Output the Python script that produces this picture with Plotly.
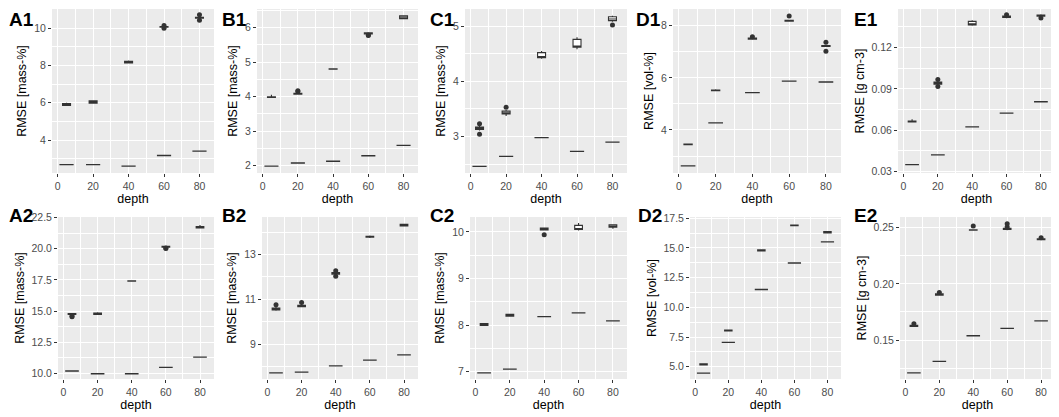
import plotly.graph_objects as go
from plotly.subplots import make_subplots

# depths of the boxes (cm)
depth = [5, 20, 40, 60, 80]

# lower, flat boxes (baseline RMSE)
A1_base = [2.68, 2.68, 2.60, 3.17, 3.40]
A2_base = [10.19, 9.97, 9.97, 10.48, 11.31]
B1_base = [1.99, 2.08, 2.13, 2.29, 2.59]
B2_base = [7.73, 7.77, 8.04, 8.30, 8.53]
C1_base = [2.46, 2.64, 2.98, 2.73, 2.90]
C2_base = [6.97, 7.05, 8.18, 8.26, 8.09]
D1_base = [2.62, 4.27, 5.43, 5.87, 5.84]
D2_base = [4.47, 7.05, 11.50, 13.73, 15.50]
E1_base = [0.0351, 0.0422, 0.0624, 0.0724, 0.0807]
E2_base = [0.1207, 0.1310, 0.1538, 0.1603, 0.1670]

# upper boxes: (lower whisker, q1, median, q3, upper whisker) per depth
A1_box = [(5.84, 5.86, 5.90, 5.95, 6.00), (5.95, 5.98, 6.05, 6.10, 6.14),
          (8.10, 8.13, 8.17, 8.22, 8.26), (10.03, 10.05, 10.07, 10.09, 10.11),
          (10.50, 10.53, 10.55, 10.58, 10.62)]
A2_box = [(14.70, 14.72, 14.77, 14.80, 14.85), (14.70, 14.73, 14.80, 14.85, 14.90),
          (17.38, 17.40, 17.42, 17.44, 17.46), (20.10, 20.13, 20.17, 20.20, 20.25),
          (21.62, 21.67, 21.72, 21.78, 21.90)]
B1_box = [(3.97, 3.98, 3.99, 4.00, 4.06), (4.06, 4.07, 4.08, 4.10, 4.12),
          (4.79, 4.80, 4.80, 4.81, 4.82), (5.80, 5.82, 5.83, 5.85, 5.86),
          (6.25, 6.26, 6.30, 6.34, 6.36)]
B2_box = [(10.50, 10.53, 10.58, 10.62, 10.68), (10.66, 10.68, 10.71, 10.74, 10.80),
          (12.08, 12.12, 12.16, 12.20, 12.24), (13.74, 13.77, 13.79, 13.81, 13.85),
          (14.25, 14.27, 14.30, 14.35, 14.37)]
C1_box = [(3.11, 3.13, 3.15, 3.17, 3.19), (3.37, 3.41, 3.43, 3.46, 3.48),
          (4.41, 4.43, 4.44, 4.52, 4.55), (4.58, 4.62, 4.64, 4.76, 4.80),
          (5.08, 5.10, 5.13, 5.17, 5.19)]
C2_box = [(7.98, 7.99, 8.01, 8.03, 8.04), (8.18, 8.19, 8.21, 8.23, 8.24),
          (10.03, 10.04, 10.06, 10.08, 10.09), (10.03, 10.05, 10.07, 10.14, 10.19),
          (10.07, 10.10, 10.12, 10.15, 10.16)]
D1_box = [(3.43, 3.44, 3.45, 3.46, 3.47), (5.50, 5.51, 5.52, 5.53, 5.56),
          (7.47, 7.48, 7.50, 7.53, 7.56), (8.16, 8.17, 8.19, 8.21, 8.23),
          (7.18, 7.20, 7.22, 7.24, 7.27)]
D2_box = [(5.12, 5.15, 5.20, 5.24, 5.26), (8.00, 8.02, 8.05, 8.08, 8.10),
          (14.72, 14.75, 14.80, 14.85, 14.88), (16.85, 16.87, 16.90, 16.93, 16.95),
          (16.22, 16.25, 16.30, 16.38, 16.42)]
E1_box = [(0.0658, 0.0660, 0.0664, 0.0667, 0.0680), (0.0925, 0.0935, 0.0942, 0.0950, 0.0960),
          (0.1358, 0.1365, 0.1373, 0.1390, 0.1398), (0.1412, 0.1418, 0.1422, 0.1428, 0.1435),
          (0.1425, 0.1428, 0.1432, 0.1437, 0.1442)]
E2_box = [(0.1615, 0.1620, 0.1625, 0.1632, 0.1638), (0.1895, 0.1900, 0.1906, 0.1912, 0.1918),
          (0.2475, 0.2478, 0.2480, 0.2482, 0.2485), (0.2478, 0.2485, 0.2490, 0.2495, 0.2500),
          (0.2388, 0.2392, 0.2396, 0.2400, 0.2405)]

# outliers (depth, value)
A1_out = [(60, 10.00), (60, 10.14), (80, 10.42), (80, 10.72)]
A2_out = [(5, 14.55), (5, 14.60), (60, 20.02), (60, 20.06)]
B1_out = [(20, 4.15), (20, 4.17), (60, 5.77), (60, 5.79)]
B2_out = [(5, 10.77), (20, 10.87), (40, 12.03), (40, 12.28)]
C1_out = [(5, 3.04), (5, 3.23), (20, 3.53), (80, 5.02)]
C2_out = [(40, 9.94)]
D1_out = [(40, 7.58), (60, 8.37), (80, 7.02), (80, 7.36)]
D2_out = []
E1_out = [(20, 0.0918), (20, 0.0968), (60, 0.1438), (80, 0.1414)]
E2_out = [(5, 0.1645), (20, 0.1924), (40, 0.2515), (60, 0.2505), (60, 0.2535), (80, 0.2410)]

y_titles = ["RMSE [mass-%]", "RMSE [mass-%]", "RMSE [mass-%]", "RMSE [vol-%]", "RMSE [g cm-3]"]

panels = [
    # name, row, col, base, box, out, y range, tick0, dtick, fmt
    ("A1", 1, 1, A1_base, A1_box, A1_out, [2.23, 11.03], 4, 2, ""),
    ("B1", 1, 2, B1_base, B1_box, B1_out, [1.79, 6.54], 2, 1, ""),
    ("C1", 1, 3, C1_base, C1_box, C1_out, [2.34, 5.31], 3, 1, ""),
    ("D1", 1, 4, D1_base, D1_box, D1_out, [2.35, 8.64], 4, 2, ""),
    ("E1", 1, 5, E1_base, E1_box, E1_out, [0.029, 0.148], 0.03, 0.03, ".2f"),
    ("A2", 2, 1, A2_base, A2_box, A2_out, [9.55, 22.55], 10, 2.5, ".1f"),
    ("B2", 2, 2, B2_base, B2_box, B2_out, [7.46, 14.67], 9, 2, ""),
    ("C2", 2, 3, C2_base, C2_box, C2_out, [6.84, 10.32], 7, 1, ""),
    ("D2", 2, 4, D2_base, D2_box, D2_out, [3.97, 17.6], 5, 2.5, ".1f"),
    ("E2", 2, 5, E2_base, E2_box, E2_out, [0.1153, 0.2595], 0.15, 0.05, ".2f"),
]

# the page body has an 8px margin, so the figure is 8px smaller and all
# pixel positions below are shifted by 8
OFF = 8
W, H = 1059 - OFF, 417 - OFF
cols_px = {1: [(52, 214), (257, 418), (465, 627), (673, 841), (898, 1055)],
           2: [(58, 214), (262, 418), (470, 627), (690, 841), (900, 1055)]}
rows_px = {1: (9, 173), 2: (217, 379)}
label_x = {1: [2, 221, 429, 635, 853], 2: [2, 221, 429, 637, 853]}
label_y = {1: 8, 2: 204}

ink = "#333333"
font = "Liberation Sans, Arial, sans-serif"

fig = make_subplots(rows=2, cols=5, horizontal_spacing=0.02, vertical_spacing=0.05)

for name, r, c, base, box, out, yr, t0, dt, fmt in panels:
    # baseline boxes (flat)
    fig.add_trace(go.Box(
        x=depth, q1=base, median=base, q3=base, lowerfence=base, upperfence=base,
        width=8, whiskerwidth=0, fillcolor="white",
        line=dict(color=ink, width=1.3), boxpoints=False, showlegend=False,
        hoverinfo="skip"
    ), row=r, col=c)
    # model boxes
    fig.add_trace(go.Box(
        x=depth,
        lowerfence=[b[0] for b in box], q1=[b[1] for b in box],
        median=[b[2] for b in box], q3=[b[3] for b in box],
        upperfence=[b[4] for b in box],
        width=4.5, whiskerwidth=0, fillcolor="white",
        line=dict(color=ink, width=1.1), boxpoints=False, showlegend=False,
        hoverinfo="skip"
    ), row=r, col=c)
    if out:
        fig.add_trace(go.Scatter(
            x=[o[0] for o in out], y=[o[1] for o in out], mode="markers",
            marker=dict(size=5, color=ink), showlegend=False, hoverinfo="skip"
        ), row=r, col=c)

    left, right = cols_px[r][c - 1]
    top, bottom = rows_px[r]
    fig.update_xaxes(
        domain=[(left - OFF) / W, min(1, (right - OFF) / W)], range=[-3.2, 88.2],
        tickvals=[0, 20, 40, 60, 80], ticks="outside", ticklen=3, tickcolor=ink,
        tickfont=dict(size=10.5, color="#4D4D4D", family=font),
        showgrid=True, gridcolor="white", gridwidth=1,
        minor=dict(tick0=0, dtick=10, showgrid=True, gridcolor="white", gridwidth=0.5),
        zeroline=False, showline=False, automargin=False,
        title=dict(text="depth", font=dict(size=12.5, color="black", family=font), standoff=2),
        row=r, col=c)
    fig.update_yaxes(
        domain=[1 - (bottom - OFF) / H, 1 - (top - OFF) / H], range=yr,
        tick0=t0, dtick=dt, tickformat=fmt, ticks="outside", ticklen=3, tickcolor=ink,
        tickfont=dict(size=10.5, color="#4D4D4D", family=font),
        showgrid=True, gridcolor="white", gridwidth=1,
        minor=dict(tick0=t0, dtick=dt / 2, showgrid=True, gridcolor="white", gridwidth=0.5),
        zeroline=False, showline=False, automargin=False,
        title=dict(text=y_titles[c - 1], font=dict(size=12.5, color="black", family=font), standoff=4),
        row=r, col=c)

    fig.add_annotation(
        text="<b>" + name + "</b>", xref="paper", yref="paper",
        x=max(0, label_x[r][c - 1] - OFF) / W,
        y=1 - (label_y[r] - OFF) / H,
        xanchor="left", yanchor="top", showarrow=False, borderpad=0,
        font=dict(size=19, color="black", family=font))

fig.update_layout(
    width=W, height=H,
    margin=dict(l=0, r=0, t=0, b=0),
    paper_bgcolor="white", plot_bgcolor="#EBEBEB",
    boxmode="overlay",
    font=dict(family=font),
)

fig.write_html("out.html")
